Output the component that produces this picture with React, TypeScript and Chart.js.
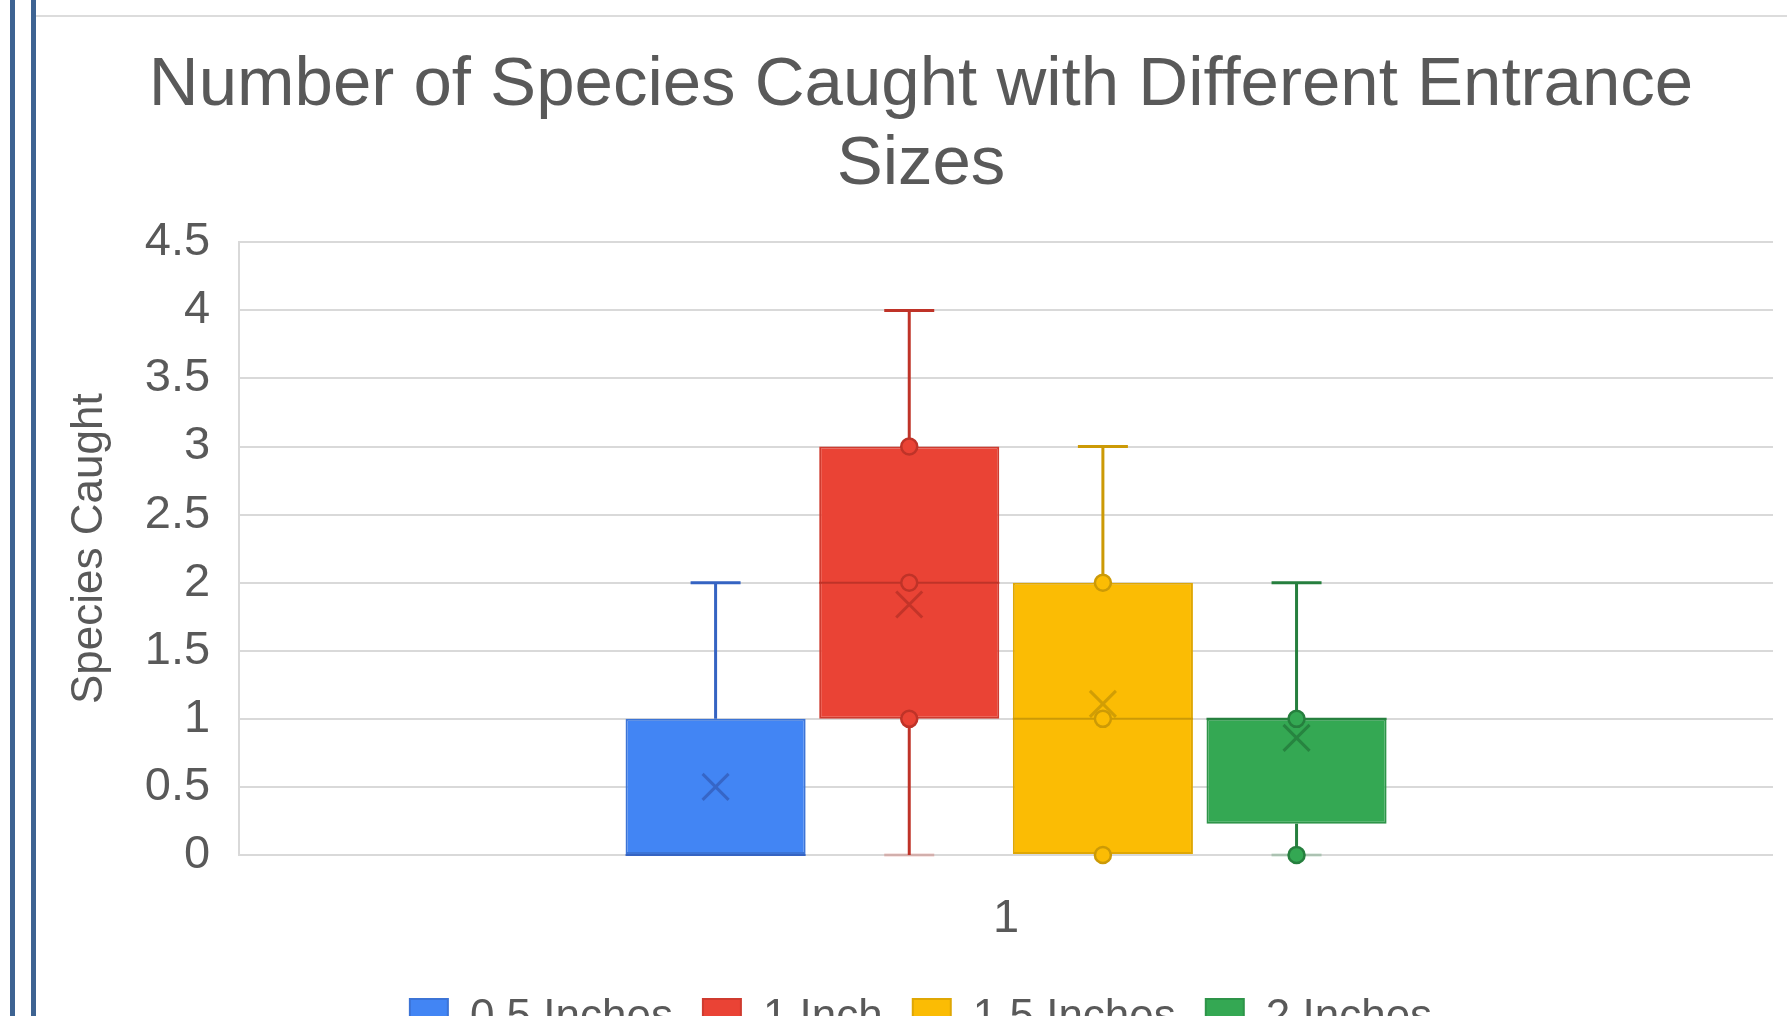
import React, { useEffect, useRef } from "react";
import { Chart, registerables } from "chart.js";

Chart.register(...registerables);

// ---- data ----
const categories = ["1"];
const seriesNames = ["0.5 Inches", "1 Inch", "1.5 Inches", "2 Inches"];
const minValues = [0, 0, 0, 0];
const q1Values = [0, 1, 0, 0.23];
const medianValues = [0, 2, 1, 1];
const q3Values = [1, 3, 2, 1];
const maxValues = [2, 4, 3, 2];
const meanValues = [0.5, 1.84, 1.11, 0.86];
const innerPoints: number[][] = [[], [1, 2, 3], [0, 1, 2], [0, 1]];
const yTickLabels = ["0", "0.5", "1", "1.5", "2", "2.5", "3", "3.5", "4", "4.5"];
const titleLines = ["Number of Species Caught with Different Entrance", "Sizes"];
const yAxisTitle = "Species Caught";

// ---- styles ----
const fillColors = ["#4285F4", "#EA4335", "#FBBC04", "#34A853"];
const borderColors = ["#3c74d6", "#cf3b2f", "#dfa704", "#2e9449"];
const darkColors = ["#3563c2", "#bf3328", "#cc9a06", "#267f3e"];
const fontFamily = "'Liberation Sans', Arial, sans-serif";
const textColor = "#595959";

const boxPlugin = {
  id: "boxExtras",
  afterDatasetsDraw(chart: any) {
    const ctx: CanvasRenderingContext2D = chart.ctx;
    const ys = chart.scales.y;
    chart.data.datasets.forEach((_ds: any, i: number) => {
      const meta = chart.getDatasetMeta(i);
      const bar: any = meta.data[0];
      if (!bar) return;
      const cx = bar.x;
      const w = bar.width;
      const capHalf = 25;
      const dark = darkColors[i];
      const yMin = ys.getPixelForValue(minValues[i]);
      const yQ1 = ys.getPixelForValue(q1Values[i]);
      const yMed = ys.getPixelForValue(medianValues[i]);
      const yQ3 = ys.getPixelForValue(q3Values[i]);
      const yMax = ys.getPixelForValue(maxValues[i]);
      const yMean = ys.getPixelForValue(meanValues[i]);
      ctx.save();
      ctx.lineCap = "butt";
      // upper whisker
      if (maxValues[i] > q3Values[i]) {
        ctx.strokeStyle = dark;
        ctx.lineWidth = 3;
        ctx.beginPath();
        ctx.moveTo(cx, yQ3);
        ctx.lineTo(cx, yMax);
        ctx.moveTo(cx - capHalf, yMax);
        ctx.lineTo(cx + capHalf, yMax);
        ctx.stroke();
      }
      // lower whisker
      if (minValues[i] < q1Values[i]) {
        ctx.strokeStyle = dark;
        ctx.lineWidth = 3;
        ctx.beginPath();
        ctx.moveTo(cx, yQ1);
        ctx.lineTo(cx, yMin);
        ctx.stroke();
        ctx.globalAlpha = 0.25;
        ctx.beginPath();
        ctx.moveTo(cx - capHalf, yMin);
        ctx.lineTo(cx + capHalf, yMin);
        ctx.stroke();
        ctx.globalAlpha = 1;
      }
      // median
      ctx.strokeStyle = dark;
      ctx.lineWidth = 2;
      ctx.beginPath();
      ctx.moveTo(cx - w / 2, yMed);
      ctx.lineTo(cx + w / 2, yMed);
      ctx.stroke();
      // inner points
      innerPoints[i].forEach((v) => {
        const py = ys.getPixelForValue(v);
        ctx.beginPath();
        ctx.arc(cx, py, 8, 0, Math.PI * 2);
        ctx.fillStyle = fillColors[i];
        ctx.fill();
        ctx.strokeStyle = dark;
        ctx.lineWidth = 2.5;
        ctx.stroke();
      });
      // mean marker
      const m = 13;
      ctx.strokeStyle = dark;
      ctx.globalAlpha = 0.9;
      ctx.lineWidth = 3;
      ctx.beginPath();
      ctx.moveTo(cx - m, yMean - m);
      ctx.lineTo(cx + m, yMean + m);
      ctx.moveTo(cx + m, yMean - m);
      ctx.lineTo(cx - m, yMean + m);
      ctx.stroke();
      ctx.restore();
    });
  },
};

export default function App() {
  const ref = useRef<HTMLCanvasElement>(null);

  useEffect(() => {
    document.body.style.margin = "0";
    const canvas = ref.current;
    if (!canvas) return;
    const chart = new Chart(canvas, {
      type: "bar",
      data: {
        labels: categories,
        datasets: seriesNames.map((name, i) => ({
          label: name,
          data: [[q1Values[i], q3Values[i]]] as any,
          backgroundColor: fillColors[i],
          borderColor: borderColors[i],
          borderWidth: 2,
          borderSkipped: false,
          categoryPercentage: 0.505,
          barPercentage: 0.93,
        })),
      },
      options: {
        responsive: false,
        animation: false,
        devicePixelRatio: 1,
        layout: { padding: { left: 33, right: 58, top: 0, bottom: 0 } },
        plugins: {
          title: {
            display: true,
            text: titleLines,
            color: textColor,
            font: { family: fontFamily, size: 69, weight: "normal", lineHeight: 1.14 },
            padding: { top: 29, bottom: 38 },
          },
          legend: {
            position: "bottom",
            labels: {
              boxWidth: 38,
              boxHeight: 38,
              padding: 30,
              color: textColor,
              font: { family: fontFamily, size: 44 },
            },
          },
          tooltip: { enabled: false },
        },
        scales: {
          x: {
            grid: { display: false, drawTicks: false },
            border: { display: false },
            ticks: { color: textColor, font: { family: fontFamily, size: 47 }, padding: 36 },
            afterFit: (s: any) => {
              s.height = 111;
            },
          },
          y: {
            min: 0,
            max: 4.5,
            ticks: {
              stepSize: 0.5,
              padding: 29,
              color: textColor,
              font: { family: fontFamily, size: 47 },
              callback: (_v: any, idx: number) => yTickLabels[idx],
            },
            grid: { color: "#d9d9d9", lineWidth: 2, drawTicks: false },
            border: { display: true, color: "#d9d9d9", width: 2 },
            title: {
              display: true,
              text: yAxisTitle,
              color: textColor,
              font: { family: fontFamily, size: 44, lineHeight: 0.95 },
              padding: { top: 0, bottom: 5 },
            },
          },
        },
      } as any,
      plugins: [boxPlugin as any],
    });
    return () => chart.destroy();
  }, []);

  return (
    <div
      style={{
        position: "fixed",
        left: 0,
        top: 0,
        width: 1787,
        height: 1016,
        overflow: "hidden",
        background: "#ffffff",
      }}
    >
      <div style={{ position: "absolute", left: 10, top: 0, width: 5, height: 1016, background: "#3d6392" }} />
      <div style={{ position: "absolute", left: 31, top: 0, width: 5, height: 1016, background: "#3d6392" }} />
      <div style={{ position: "absolute", left: 36, top: 15, width: 1751, height: 2, background: "#dcdcdc" }} />
      <canvas
        ref={ref}
        width={1795}
        height={1032}
        style={{ position: "absolute", left: 36, top: 18, width: 1795, height: 1032 }}
      />
    </div>
  );
}
